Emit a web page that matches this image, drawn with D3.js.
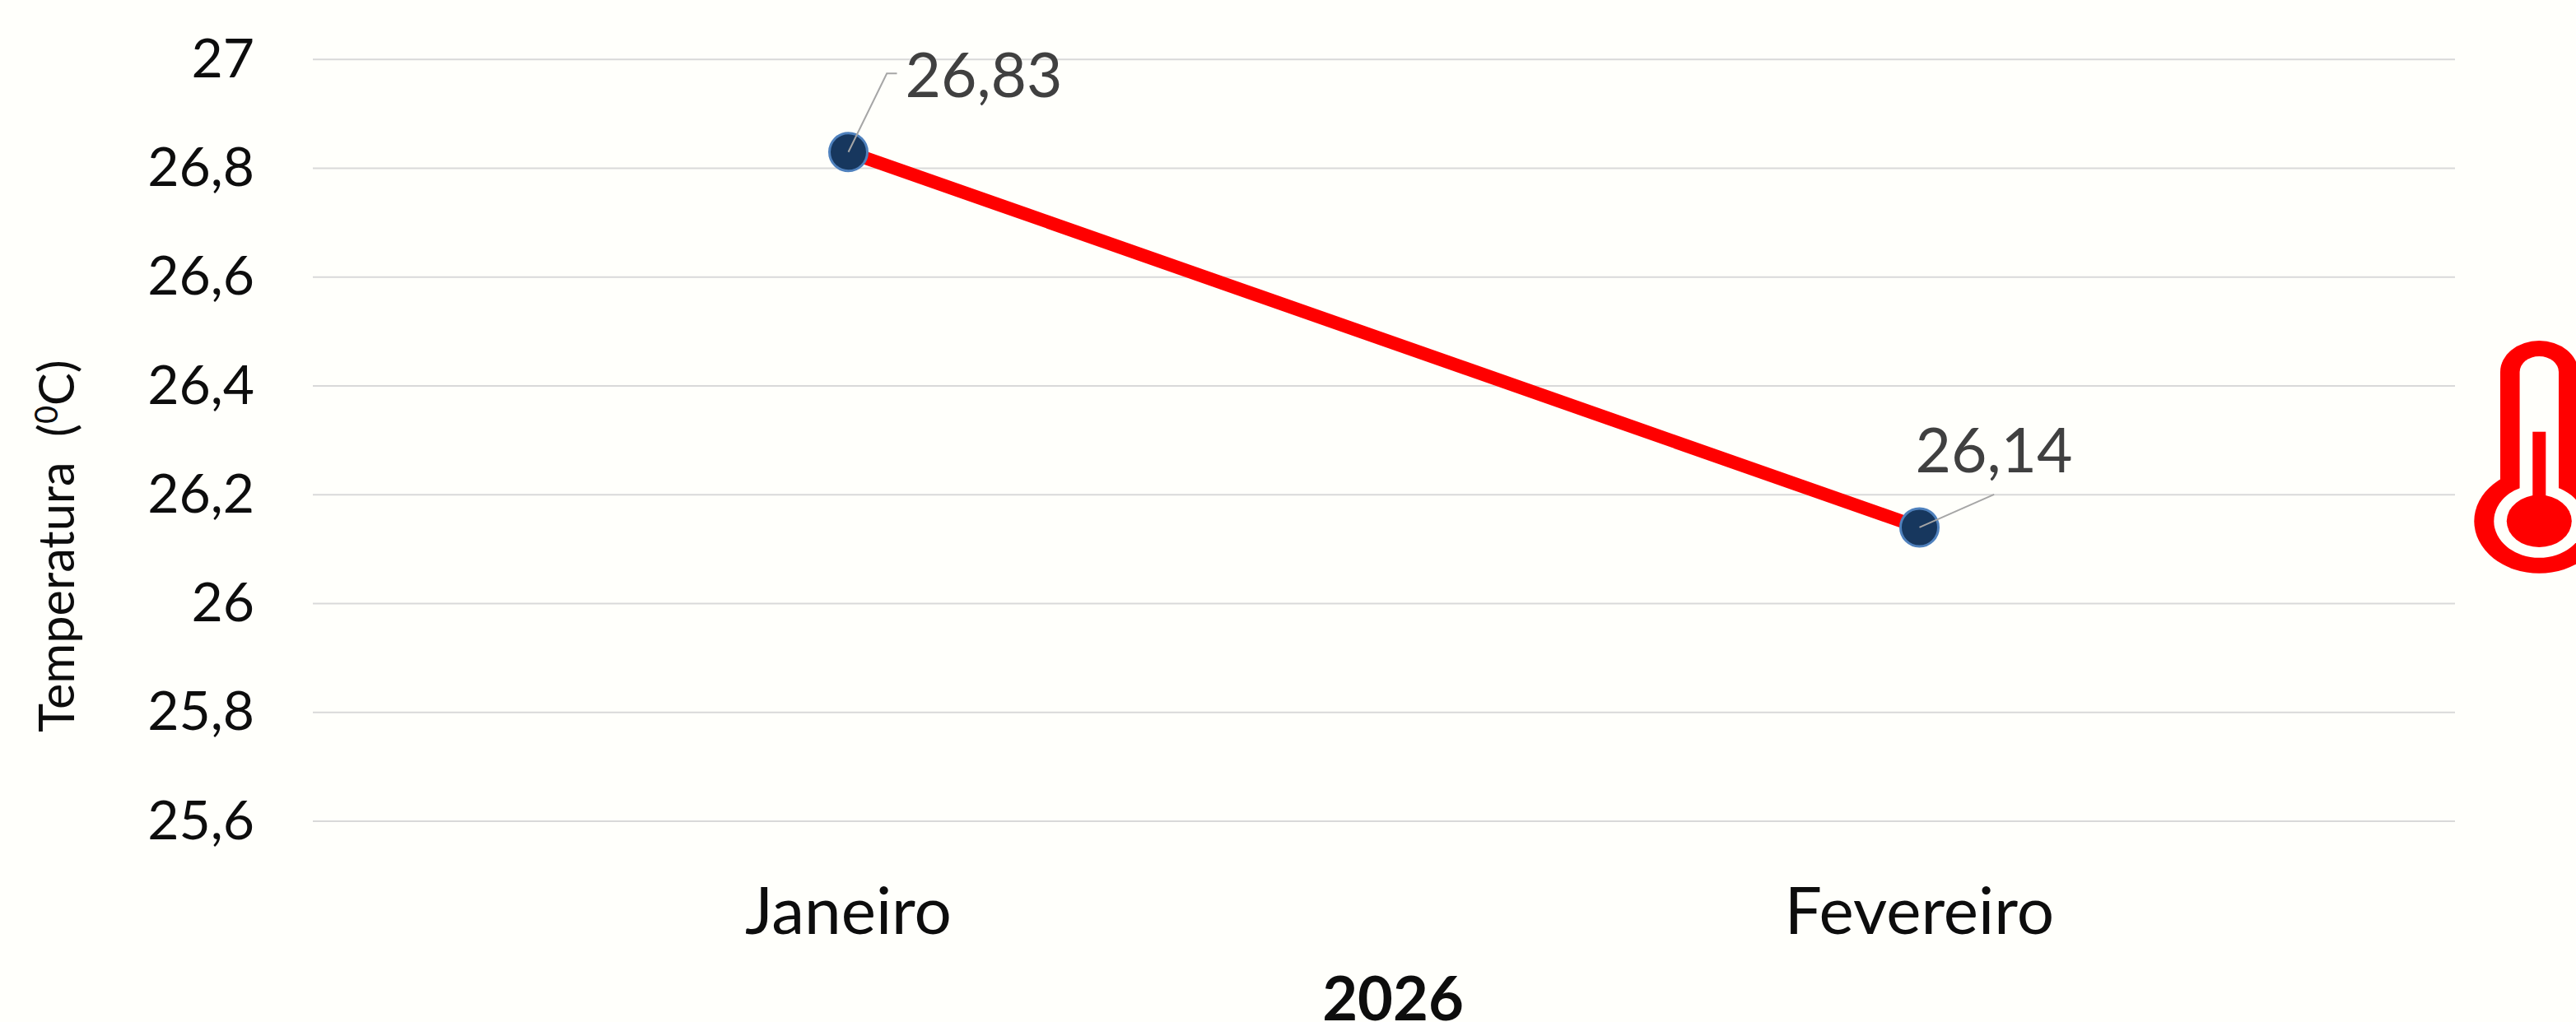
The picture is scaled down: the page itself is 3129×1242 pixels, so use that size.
<!DOCTYPE html>
<html>
<head>
<meta charset="utf-8">
<script src="https://cdn.jsdelivr.net/npm/d3@7"></script>
<style>
  html, body { margin: 0; padding: 0; background: #fffffb; overflow: hidden; }
  text { font-family: Lato, "Open Sans", sans-serif; }
</style>
</head>
<body>
<div id="chart"></div>
<script>
const months = ["Janeiro", "Fevereiro"];
const temperatures = [26.83, 26.14];
const yTicks = [25.6, 25.8, 26, 26.2, 26.4, 26.6, 26.8, 27];
const xTitle = "2026";
// label position relative to the point, leader line elbow too
const labelOffsets = [
  { tx: 69, ty: -67, elbow: [[46.7, -95.5], [59, -95.5]] },
  { tx: -5, ty: -67, elbow: [[90.7, -40]] }
];

const W = 3129, H = 1242;
const commaFmt = d => String(d).replace(".", ",");

const svg = d3.select("#chart")
  .append("svg")
  .attr("width", W)
  .attr("height", H)
  .style("display", "block");

svg.append("rect")
  .attr("width", W)
  .attr("height", H)
  .attr("fill", "#fffffb");

const x = d3.scaleBand().domain(months).range([380, 2982]);
const y = d3.scaleLinear().domain([25.6, 27]).range([998, 72.3]);

// grid
svg.append("g")
  .selectAll("line")
  .data(yTicks)
  .enter()
  .append("line")
  .attr("x1", 380)
  .attr("x2", 2982)
  .attr("y1", d => y(d))
  .attr("y2", d => y(d))
  .attr("stroke", "#d9d9d9")
  .attr("stroke-width", 2);

// y axis
const yAxis = svg.append("g")
  .attr("transform", "translate(380,0)")
  .call(d3.axisLeft(y).tickValues(yTicks).tickFormat(commaFmt).tickSize(0).tickPadding(71));
yAxis.select(".domain").remove();
yAxis.selectAll("text")
  .attr("font-size", 66)
  .attr("fill", "#0d0d0d")
  .style("font-family", "Lato, sans-serif");

// x axis
const xAxis = svg.append("g")
  .attr("transform", "translate(0,998)")
  .call(d3.axisBottom(x).tickSize(0).tickPadding(80));
xAxis.select(".domain").remove();
xAxis.selectAll("text")
  .attr("font-size", 80)
  .attr("fill", "#0d0d0d")
  .style("font-family", "Lato, sans-serif");

svg.append("text")
  .attr("x", 1692)
  .attr("y", 1240)
  .attr("text-anchor", "middle")
  .attr("font-size", 74)
  .attr("font-weight", "bold")
  .attr("fill", "#0d0d0d")
  .text(xTitle);

const yTitle = svg.append("text")
  .attr("transform", "translate(90,890) rotate(-90)")
  .attr("font-size", 59.5)
  .attr("fill", "#0d0d0d");
yTitle.append("tspan").text("Temperatura\u00a0\u00a0(");
yTitle.append("tspan").attr("font-size", 38).attr("dy", -20).text("0");
yTitle.append("tspan").attr("dy", 20).text("C)");

// series
const points = months.map((m, i) => ({ month: m, value: temperatures[i], off: labelOffsets[i] }));
const px = d => x(d.month) + x.bandwidth() / 2;
const py = d => y(d.value);

svg.append("path")
  .attr("fill", "none")
  .attr("stroke", "#ff0000")
  .attr("stroke-width", 16)
  .attr("d", d3.line().x(px).y(py)(points));

svg.append("g")
  .selectAll("circle")
  .data(points)
  .enter()
  .append("circle")
  .attr("cx", px)
  .attr("cy", py)
  .attr("r", 23)
  .attr("fill", "#17375e")
  .attr("stroke", "#4f81bd")
  .attr("stroke-width", 3);

// leader lines + labels
svg.append("g")
  .selectAll("path")
  .data(points)
  .enter()
  .append("path")
  .attr("fill", "none")
  .attr("stroke", "#a6a6a6")
  .attr("stroke-width", 2)
  .attr("d", d => d3.line()([[px(d), py(d)]].concat(d.off.elbow.map(e => [px(d) + e[0], py(d) + e[1]]))));

svg.append("g")
  .selectAll("text")
  .data(points)
  .enter()
  .append("text")
  .attr("x", d => px(d) + d.off.tx)
  .attr("y", d => py(d) + d.off.ty)
  .attr("font-size", 75)
  .attr("fill", "#404040")
  .text(d => commaFmt(d.value));

// thermometer icon
const icon = svg.append("g").attr("transform", "translate(3084.3,0)");
const tube = (hw, top, sh, bottom) =>
  `M${-hw},${bottom}V${sh}A${hw},${sh - top} 0 0 1 ${hw},${sh}V${bottom}Z`;
icon.append("ellipse").attr("cy", 633.3).attr("rx", 79).attr("ry", 63.5).attr("fill", "#ff0000");
icon.append("path").attr("d", tube(47.3, 414, 452, 600)).attr("fill", "#ff0000");
icon.append("ellipse").attr("cy", 633.3).attr("rx", 55).attr("ry", 44.5).attr("fill", "#fffffb");
icon.append("path").attr("d", tube(23.7, 433, 452, 610)).attr("fill", "#fffffb");
icon.append("rect").attr("x", -8).attr("y", 524.7).attr("width", 16).attr("height", 90).attr("fill", "#ff0000");
icon.append("ellipse").attr("cy", 633.3).attr("rx", 39.5).attr("ry", 31.7).attr("fill", "#ff0000");
</script>
</body>
</html>
